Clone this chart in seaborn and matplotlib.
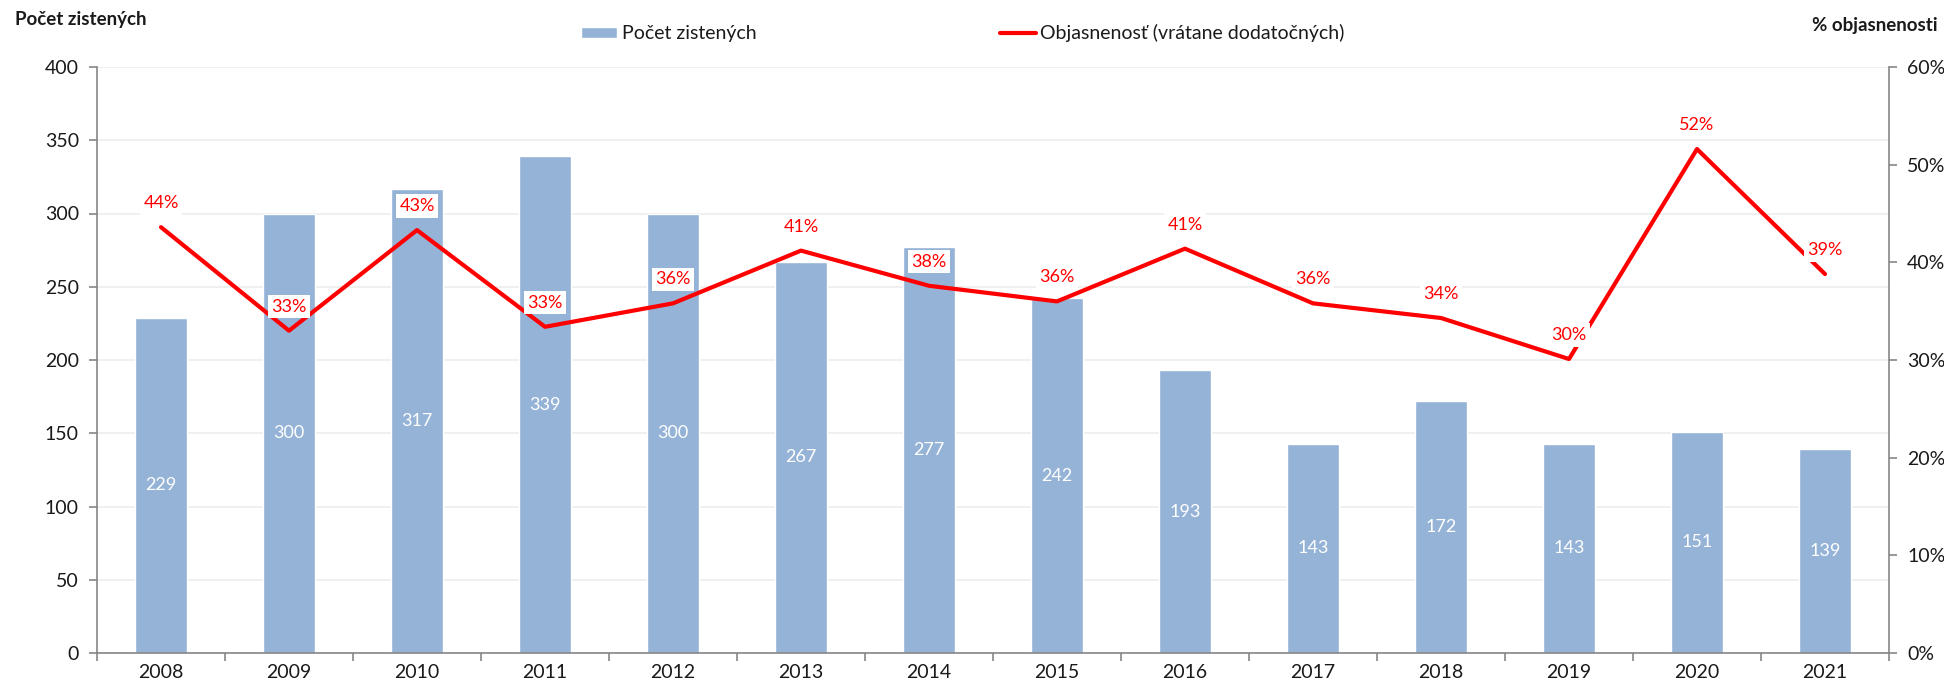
import matplotlib
matplotlib.use("Agg")
import matplotlib.pyplot as plt
import seaborn as sns
import numpy as np
import pandas as pd
from matplotlib.ticker import MultipleLocator, FixedLocator, FuncFormatter

years = ["2008", "2009", "2010", "2011", "2012", "2013", "2014",
         "2015", "2016", "2017", "2018", "2019", "2020", "2021"]
counts = [229, 300, 317, 339, 300, 267, 277, 242, 193, 143, 172, 143, 151, 139]
clearance = [43.6, 33.0, 43.3, 33.4, 35.8, 41.2, 37.6, 36.0, 41.4, 35.8, 34.3, 30.1, 51.6, 38.8]

bar_name = "Počet zistených"
line_name = "Objasnenosť (vrátane dodatočných)"
left_title = "Počet zistených"
right_title = "% objasnenosti"

sns.set_theme(style="white")
plt.rcParams["font.family"] = ["Lato", "DejaVu Sans"]

BAR = "#95B3D7"
RED = "#FF0000"
AXC = "#868686"
TXT = "#1a1a1a"
W, H = 1944, 685

fig = plt.figure(figsize=(W / 100, H / 100), dpi=100)
ax = fig.add_axes([97 / W, (H - 653) / H, (1889 - 97) / W, (653 - 67) / H])

df = pd.DataFrame({"rok": years, "pocet": counts, "objasnenost": clearance})

sns.barplot(data=df, x="rok", y="pocet", color=BAR, saturation=1, width=0.41,
            ax=ax, zorder=2, label=bar_name)
ax.set_xlim(-0.5, len(years) - 0.5)
ax.set_ylim(0, 400)
ax.yaxis.set_major_locator(MultipleLocator(50))
ax.grid(axis="y", color="#EDEDED", lw=1.2, zorder=0)
ax.set_axisbelow(True)
ax.set_xlabel("")
ax.set_ylabel("")

for i, v in enumerate(df["pocet"]):
    ax.text(i, v / 2, f"{v}", ha="center", va="center", color="white", fontsize=13)

ax2 = ax.twinx()
sns.lineplot(x=np.arange(len(years)), y=df["objasnenost"], color=RED, lw=3,
             ax=ax2, zorder=3, label=line_name, legend=False)
ax2.set_ylim(0, 60)
ax2.yaxis.set_major_locator(MultipleLocator(10))
ax2.yaxis.set_major_formatter(FuncFormatter(lambda v, p: f"{v:.0f}%"))
ax2.set_ylabel("")
ax2.grid(False)

for i, v in enumerate(df["objasnenost"]):
    ax2.annotate(f"{round(v):.0f}%", (i, v), xytext=(0, 24), textcoords="offset pixels",
                 ha="center", va="center", color=RED, fontsize=13, zorder=5,
                 bbox=dict(boxstyle="square,pad=0.2", fc="white", ec="none"))

# axes styling
for a in (ax, ax2):
    a.spines["top"].set_visible(False)
    for s in ("left", "right", "bottom"):
        a.spines[s].set_color(AXC)
        a.spines[s].set_linewidth(1.2)
ax.spines["right"].set_visible(False)
ax2.spines["left"].set_visible(False)
ax2.spines["bottom"].set_visible(False)

ax.tick_params(axis="y", which="major", direction="out", length=6, width=1.2, color=AXC,
               labelsize=14, labelcolor=TXT, pad=7, left=True)
ax2.tick_params(axis="y", which="major", direction="out", length=6, width=1.2, color=AXC,
                labelsize=14, labelcolor=TXT, pad=7, right=True)
ax.xaxis.set_minor_locator(FixedLocator(np.arange(-0.5, len(years), 1.0)))
ax.tick_params(axis="x", which="major", length=0, labelsize=14, labelcolor=TXT, pad=8)
ax.tick_params(axis="x", which="minor", direction="out", length=6, width=1.2, color=AXC, bottom=True)

fig.text(15 / W, 1 - 20 / H, left_title, ha="left", va="center", fontsize=13.5,
         fontweight="bold", color=TXT)
fig.text(1938 / W, 1 - 25 / H, right_title, ha="right", va="center", fontsize=13.5,
         fontweight="bold", color=TXT)

h1, l1 = ax.get_legend_handles_labels()
h2, l2 = ax2.get_legend_handles_labels()
leg = fig.legend(h1 + h2, l1 + l2, loc="center", bbox_to_anchor=(963 / W, 1 - 33 / H),
                 ncol=2, frameon=False, fontsize=14, handlelength=1.85, handleheight=0.5,
                 columnspacing=12.5, handletextpad=0.25, labelcolor=TXT)
if ax.get_legend():
    ax.get_legend().remove()

fig.savefig("out.png", dpi=100)
